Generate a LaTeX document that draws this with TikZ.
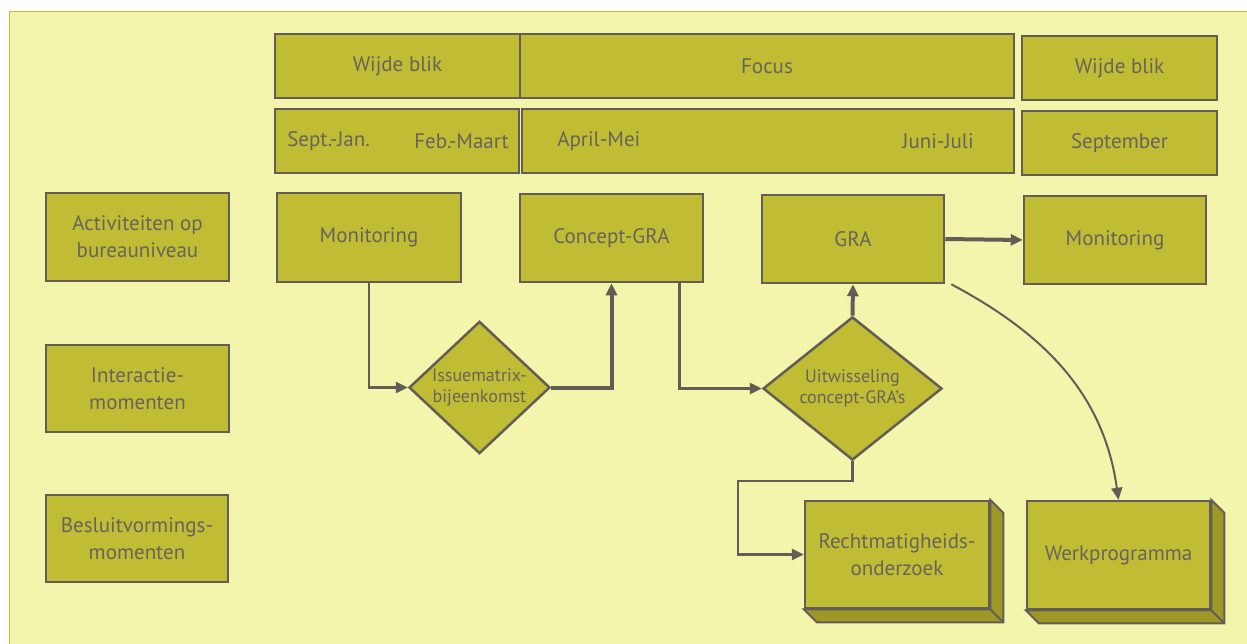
\documentclass[tikz,border=0pt]{standalone}
\usepackage{fontspec}
\setmainfont{PT Sans}
\usetikzlibrary{shapes.geometric,arrows.meta,calc}
\definecolor{achter}{RGB}{243,245,172}
\definecolor{olijf}{RGB}{192,188,52}
\definecolor{olijfdonker}{RGB}{160,152,38}
\definecolor{rand}{RGB}{99,93,88}
\definecolor{tekst}{RGB}{104,100,92}
\begin{document}
\begin{tikzpicture}[x=1pt,y=-1pt,line join=miter,>={Triangle[length=12pt,width=11pt]},
	font=\fontsize{21}{27}\selectfont,text=tekst,
	vak/.style={draw=rand,fill=olijf,line width=2.5pt,inner sep=0pt,align=center},
	ruit/.style={diamond,draw=rand,fill=olijf,line width=2.5pt,inner sep=0pt,align=center,font=\fontsize{18}{21}\selectfont},
	lijn/.style={draw=rand,line width=2.5pt},
	dik/.style={draw=rand,line width=4pt}]
	\useasboundingbox (0,0) rectangle (1247,643);
	\fill[achter] (9,11) rectangle (1260,660);
	\draw[olijf,line width=1pt] (9,660) -- (9,11) -- (1260,11);
	
	\node[vak,minimum width=245pt,minimum height=64pt] (wb1) at (397.5,66) {Wijde blik};
	\node[vak,minimum width=494pt,minimum height=64pt] (focus) at (767,66) {Focus};
	\node[vak,minimum width=195pt,minimum height=64pt] (wb2) at (1119.5,68) {Wijde blik};
	\node[vak,minimum width=244pt,minimum height=64pt] (sj) at (397,141) {};
	\node[vak,minimum width=492pt,minimum height=64pt] (am) at (768,141) {};
	\node[vak,minimum width=195pt,minimum height=64pt] (sep) at (1119.5,143) {September};
	\node[anchor=west] (sjtxt) at ([xshift=10pt]sj.west) {Sept.-Jan.};
	\node[anchor=east] (fmtxt) at ([xshift=-8pt]sj.east) {Feb.-Maart};
	\node[anchor=west] (amtxt) at ([xshift=33pt]am.west) {April-Mei};
	\node[anchor=east] (jjtxt) at ([xshift=-38pt]am.east) {Juni-Juli};
	
	\node[vak,minimum width=183pt,minimum height=88pt] (act) at (137.5,237) {Activiteiten op\\bureauniveau};
	\node[vak,minimum width=183pt,minimum height=87pt] (int) at (137.5,388.5) {Interactie-\\momenten};
	\node[vak,minimum width=182pt,minimum height=87pt] (bes) at (137,538.5) {Besluitvormings-\\momenten};
	
	\node[vak,minimum width=184pt,minimum height=89pt] (mon1) at (369,237.5) {Monitoring};
	\node[vak,minimum width=183pt,minimum height=88pt] (cgra) at (611.5,238) {Concept-GRA};
	\node[vak,minimum width=182pt,minimum height=88pt] (gra) at (853,239) {GRA};
	\node[vak,minimum width=182pt,minimum height=88pt] (mon2) at (1115,240) {Monitoring};
	
	\node[ruit,minimum width=141pt,minimum height=129pt] (issue) at (479.5,387.5) {Issuematrix-\\bijeenkomst};
	\node[ruit,minimum width=179pt,minimum height=127pt] (uitw) at (852.5,388.5) {Uitwisseling\\concept-GRA's};
	
	\node[vak,minimum width=184pt,minimum height=107pt] (recht) at (897,554.5) {Rechtmatigheids-\\onderzoek};
	\node[vak,minimum width=183pt,minimum height=108pt] (werk) at (1118.5,555) {Werkprogramma};
	\foreach \b in {recht,werk}{
		\filldraw[fill=olijfdonker,draw=rand,line width=2pt]
		(\b.north east) -- ++(13,13) -- ($(\b.south east)+(13,13)$) -- ($(\b.south west)+(13,13)$)
		-- (\b.south west) -- (\b.south east) -- cycle;
		\draw[rand,line width=2pt] (\b.south east) -- ++(13,13);
	}
	
	\coordinate (knik) at (738,481);
	\draw[lijn,->] (mon1.south) |- (issue.west);
	\draw[dik,->] (issue.east) -| (cgra.south);
	\draw[lijn,->] ([xshift=-25pt]cgra.south east) |- (uitw.west);
	\draw[dik,->] (uitw.north) -- (gra.south);
	\draw[lijn,->] (uitw.south) |- (knik) |- (recht.west);
	\draw[dik,->] (gra.east) -- (mon2.west);
	\draw[rand,line width=2pt,->] ([xshift=6pt]gra.south east) to[out=-28,in=98] (werk.north);
	
\end{tikzpicture}
\end{document}
